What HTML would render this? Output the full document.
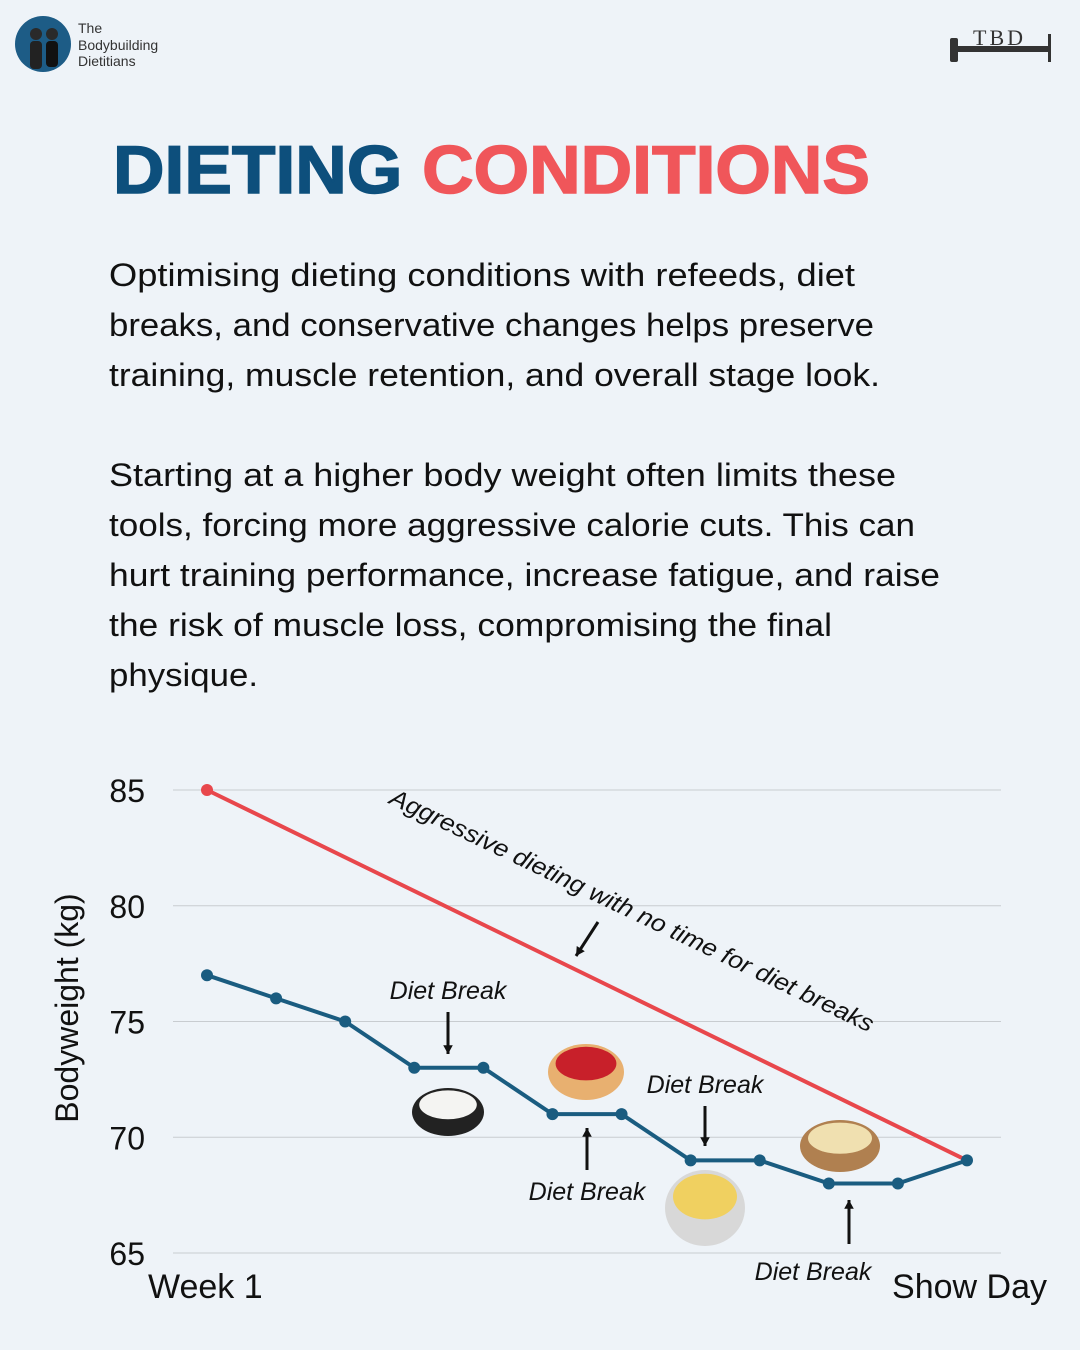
<!DOCTYPE html>
<html><head><meta charset="utf-8"><style>
body{margin:0;background:#eef3f8;}
svg{display:block;font-family:"Liberation Sans",sans-serif;}
</style></head><body>
<svg width="1080" height="1350" viewBox="0 0 1080 1350">
<rect width="1080" height="1350" fill="#eef3f8"/>
<g>
<circle cx="43" cy="44" r="28" fill="#1d5c86"/>
<circle cx="36" cy="34" r="6" fill="#2a2a2a"/><rect x="30" y="41" width="12" height="28" rx="4" fill="#222"/>
<circle cx="52" cy="34" r="6" fill="#2a2a2a"/><rect x="46" y="41" width="12" height="26" rx="4" fill="#111"/>
<text x="78" y="33" font-size="14" fill="#333">The</text>
<text x="78" y="50" font-size="14" fill="#333">Bodybuilding</text>
<text x="78" y="66" font-size="14" fill="#333">Dietitians</text>
</g>
<g>
<rect x="950" y="38" width="8" height="24" rx="2" fill="#333"/>
<rect x="958" y="46" width="90" height="6" fill="#333"/>
<text x="973" y="45" font-size="22" font-family="Liberation Serif,serif" fill="#333" letter-spacing="3">TBD</text>
<rect x="1048" y="34" width="3" height="28" fill="#333"/>
</g>
<text x="113" y="193" font-size="68" font-weight="bold" stroke-width="1.5" textLength="757" lengthAdjust="spacingAndGlyphs"><tspan fill="#0d4f7c" stroke="#0d4f7c">DIETING </tspan><tspan fill="#f0565a" stroke="#f0565a">CONDITIONS</tspan></text>
<g font-size="32" fill="#111" lengthAdjust="spacingAndGlyphs">
<text x="109" y="286" textLength="746" lengthAdjust="spacingAndGlyphs">Optimising dieting conditions with refeeds, diet</text>
<text x="109" y="336" textLength="765" lengthAdjust="spacingAndGlyphs">breaks, and conservative changes helps preserve</text>
<text x="109" y="386" textLength="771" lengthAdjust="spacingAndGlyphs">training, muscle retention, and overall stage look.</text>
<text x="109" y="486" textLength="787" lengthAdjust="spacingAndGlyphs">Starting at a higher body weight often limits these</text>
<text x="109" y="536" textLength="806" lengthAdjust="spacingAndGlyphs">tools, forcing more aggressive calorie cuts. This can</text>
<text x="109" y="586" textLength="831" lengthAdjust="spacingAndGlyphs">hurt training performance, increase fatigue, and raise</text>
<text x="109" y="636" textLength="723" lengthAdjust="spacingAndGlyphs">the risk of muscle loss, compromising the final</text>
<text x="109" y="686" textLength="149" lengthAdjust="spacingAndGlyphs">physique.</text>
</g>
<g id="chart"></g>
</svg>
<script>
const yTicks=[65,70,75,80,85];
const blueWeights=[77,76,75,73,73,71,71,69,69,68,68,69];
const redWeights=[85,69];
const redWeeks=[0,11];
const NS="http://www.w3.org/2000/svg";
const g=document.getElementById('chart');
const x=i=>207+i*(967-207)/11;
const y=v=>1253-(v-65)*(1253-790)/20;
function mk(tag,attrs,parent){const e=document.createElementNS(NS,tag);for(const k in attrs)e.setAttribute(k,attrs[k]);(parent||g).appendChild(e);return e;}
yTicks.forEach(t=>{
 const l=mk('line',{x1:173,x2:1001,y1:y(t),y2:y(t),stroke:'#c8ccd0','stroke-width':1});
 
 
 const tx=mk('text',{x:145,y:y(t)+12,'font-size':32,'text-anchor':'end',fill:'#111'});
 tx.textContent=t;
 
 
});
const yt=mk('text',{x:0,y:0,'font-size':32,'text-anchor':'middle',fill:'#111',transform:'translate(78,1008) rotate(-90)'});
yt.textContent='Bodyweight (kg)';


const w1=mk('text',{x:148,y:1298,'font-size':34,fill:'#111'});w1.textContent='Week 1';


const sd=mk('text',{x:1047,y:1298,'font-size':34,'text-anchor':'end',fill:'#111'});sd.textContent='Show Day';


const red=mk('polyline',{points:redWeights.map((v,i)=>x(redWeeks[i])+','+y(v)).join(' '),fill:'none',stroke:'#e8474c','stroke-width':4});


const rp=mk('circle',{cx:x(redWeeks[0]),cy:y(redWeights[0]),r:6,fill:'#e8474c'});


const blue=mk('polyline',{points:blueWeights.map((v,i)=>x(i)+','+y(v)).join(' '),fill:'none',stroke:'#1a5c80','stroke-width':4});


blueWeights.forEach((v,i)=>{const c=mk('circle',{cx:x(i),cy:y(v),r:6,fill:'#1a5c80'});
 
 });
const ann=mk('text',{x:0,y:0,'font-size':24,'font-style':'italic',fill:'#111',transform:'translate(388,803) rotate(25.5)',textLength:533,lengthAdjust:'spacingAndGlyphs'});
ann.textContent='Aggressive dieting with no time for diet breaks';


function arrow(x1,y1,x2,y2){const a=mk('line',{x1,y1,x2,y2,stroke:'#111','stroke-width':3});
 
 const ang=Math.atan2(y2-y1,x2-x1),s=10;
 const p=mk('polygon',{points:`${x2},${y2} ${x2-s*Math.cos(ang-0.5)},${y2-s*Math.sin(ang-0.5)} ${x2-s*Math.cos(ang+0.5)},${y2-s*Math.sin(ang+0.5)}`,fill:'#111'});
 }
arrow(598,922,576,956);
function label(t,lx,ly){const e=mk('text',{x:lx,y:ly,'font-size':25,'font-style':'italic','text-anchor':'middle',fill:'#111'});e.textContent=t;
 }
label('Diet Break',448,999);arrow(448,1012,448,1054);
label('Diet Break',587,1200);arrow(587,1170,587,1128);
label('Diet Break',705,1093);arrow(705,1106,705,1146);
label('Diet Break',813,1280);arrow(849,1244,849,1200);
function food(cx,cy,rx,ry,c1,c2,name){const a=mk('ellipse',{cx,cy,rx,ry,fill:c1});
 const b=mk('ellipse',{cx,cy:cy-ry*0.3,rx:rx*0.8,ry:ry*0.6,fill:c2});}
food(448,1112,36,24,'#222','#f4f4f2','rice-bowl');
food(586,1072,38,28,'#e8b070','#c8202a','cheesecake');
food(705,1208,40,38,'#d8d8d8','#f0d060','pasta-plate');
food(840,1146,40,26,'#b08050','#f0e0b0','banana-pancakes');
</script>
</body></html>
